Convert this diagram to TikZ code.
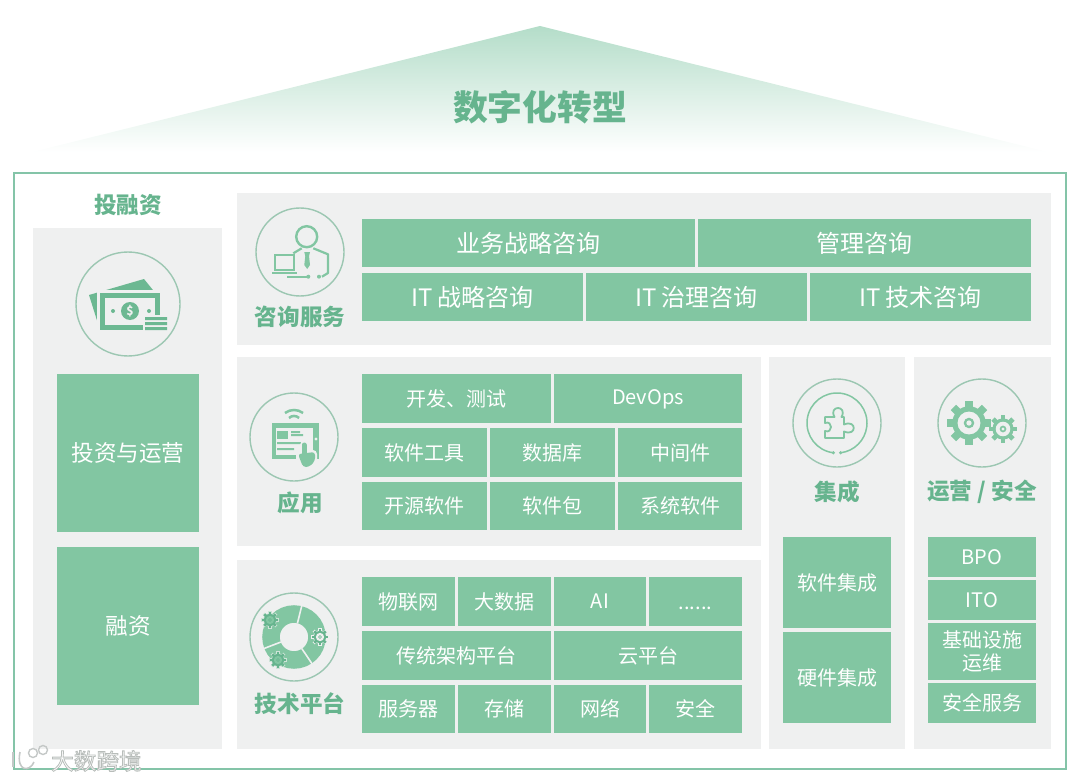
\documentclass[tikz,border=0pt]{standalone}
\usepackage{fontspec}
\setmainfont{Noto Sans CJK SC}
\usepackage{tikz}
\usetikzlibrary{positioning}
\definecolor{CellGreen}{HTML}{82C6A2}
\definecolor{HeadGreen}{HTML}{66B48E}
\definecolor{RingGreen}{HTML}{9CC7B2}
\definecolor{FrameGreen}{HTML}{84C4A8}
\definecolor{RoofGreen}{HTML}{B4DDC9}
\definecolor{PanelGray}{HTML}{EFF0F0}
\definecolor{MarkGray}{HTML}{C4C8C7}
\newcommand{\gearicon}[5]{%
\begin{scope}[shift={(#1,#2)}]
\foreach \ga in {0,45,...,315}{\draw[#4,line width=0.34*#3 pt] (\ga:0.6*#3) -- (\ga:#3);}
\fill[#4] (0,0) circle[radius=0.76*#3];
\fill[#5] (0,0) circle[radius=0.52*#3];
\fill[#4] (0,0) circle[radius=0.24*#3];
\fill[#5] (0,0) circle[radius=0.12*#3];
\end{scope}}
\begin{document}
\begin{tikzpicture}[
x=1pt,y=-1pt,
panel/.style={fill=PanelGray,anchor=north west,inner sep=0pt,outer sep=0pt},
cell/.style={fill=CellGreen,text=white,anchor=north west,inner sep=0pt,outer sep=0pt,align=center,font=\fontsize{20}{24}\selectfont},
bigcell/.style={cell,font=\fontsize{24}{28}\selectfont},
midcell/.style={cell,font=\fontsize{22.6}{26}\selectfont},
head/.style={text=HeadGreen,inner sep=0pt,font=\fontsize{22.6}{26}\selectfont\bfseries},
ring/.style={circle,draw=RingGreen,line width=1.4pt,inner sep=0pt,outer sep=0pt}
]
\useasboundingbox (0,0) rectangle (1080,781);
\shade[top color=RoofGreen,bottom color=white] (540,26) -- (1048,152) -- (32,152) -- cycle;
\node[text=HeadGreen,inner sep=0pt,font=\fontsize{34.8}{40}\selectfont\bfseries] (title) at (540,107) {数字化转型};
\node[draw=FrameGreen,line width=1.3pt,anchor=north west,inner sep=0pt,outer sep=0pt,minimum width=1052pt,minimum height=596pt] (house) at (14,173) {};

\node[panel,minimum width=189pt,minimum height=521pt] (fundpanel) at (33,228) {};
\node[panel,minimum width=814pt,minimum height=152pt] (consultpanel) at (237,193) {};
\node[panel,minimum width=524pt,minimum height=189pt] (apppanel) at (237,357) {};
\node[panel,minimum width=524pt,minimum height=189pt] (techpanel) at (237,560) {};
\node[panel,minimum width=136pt,minimum height=392pt] (integpanel) at (769,357) {};
\node[panel,minimum width=137pt,minimum height=392pt] (opspanel) at (914,357) {};

\node[head] (fundhead) at (128,205) {投融资};
\node[head] (consulthead) at (300,317) {咨询服务};
\node[head] (apphead) at (300,503) {应用};
\node[head] (techhead) at (300,704) {技术平台};
\node[head] (integhead) at (837,492) {集成};
\node[head] (opshead) at (982,492) {运营 / 安全};

\node[midcell,minimum width=142pt,minimum height=158pt] (invest) at (57,374) {投资与运营};
\node[midcell,minimum width=142pt,minimum height=158pt] (finance) at (57,547) {融资};

\node[bigcell,minimum width=333pt,minimum height=48pt] (bizcon) at (362,219) {业务战略咨询};
\node[bigcell,minimum width=333pt,minimum height=48pt,right=3pt of bizcon] (mgmtcon) {管理咨询};
\node[bigcell,minimum width=221pt,minimum height=48pt] (itstrat) at (362,273) {IT 战略咨询};
\node[bigcell,minimum width=221pt,minimum height=48pt,right=3pt of itstrat] (itgov) {IT 治理咨询};
\node[bigcell,minimum width=221pt,minimum height=48pt,right=3pt of itgov] (ittech) {IT 技术咨询};

\node[cell,minimum width=189pt,minimum height=49pt] (devtest) at (362,374) {开发、测试};
\node[cell,minimum width=188pt,minimum height=49pt,right=3pt of devtest] (devops) {\vphantom{中}DevOps};
\node[cell,minimum width=125pt,minimum height=49pt] (tools) at (362,428) {软件工具};
\node[cell,minimum width=125pt,minimum height=49pt,right=3pt of tools] (database) {数据库};
\node[cell,minimum width=124pt,minimum height=49pt,right=3pt of database] (midware) {中间件};
\node[cell,minimum width=125pt,minimum height=48pt] (opensrc) at (362,482) {开源软件};
\node[cell,minimum width=125pt,minimum height=48pt,right=3pt of opensrc] (package) {软件包};
\node[cell,minimum width=124pt,minimum height=48pt,right=3pt of package] (system) {系统软件};

\node[cell,minimum width=93pt,minimum height=49pt] (iot) at (362,577) {物联网};
\node[cell,minimum width=93pt,minimum height=49pt,right=3pt of iot] (bigdata) {大数据};
\node[cell,minimum width=92pt,minimum height=49pt,right=3pt of bigdata] (ai) {AI};
\node[cell,minimum width=93pt,minimum height=49pt,right=3pt of ai] (more) {\vphantom{中}......};
\node[cell,minimum width=189pt,minimum height=49pt] (legacy) at (362,631) {传统架构平台};
\node[cell,minimum width=188pt,minimum height=49pt,right=3pt of legacy] (cloud) {云平台};
\node[cell,minimum width=93pt,minimum height=48pt] (server) at (362,685) {服务器};
\node[cell,minimum width=93pt,minimum height=48pt,right=3pt of server] (storage) {存储};
\node[cell,minimum width=92pt,minimum height=48pt,right=3pt of storage] (network) {网络};
\node[cell,minimum width=93pt,minimum height=48pt,right=3pt of network] (security) {安全};

\node[cell,minimum width=108pt,minimum height=91pt] (softint) at (783,537) {软件集成};
\node[cell,minimum width=108pt,minimum height=91pt] (hardint) at (783,632) {硬件集成};

\node[cell,minimum width=108pt,minimum height=40pt] (bpo) at (928,537) {BPO};
\node[cell,minimum width=108pt,minimum height=40pt] (ito) at (928,580) {ITO};
\node[cell,minimum width=108pt,minimum height=57pt] (infra) at (928,623) {基础设施\\[-1pt]运维};
\node[cell,minimum width=108pt,minimum height=40pt] (secserv) at (928,683) {安全服务};

\node[ring,minimum size=104pt] (fundring) at (128,304) {};
\node[ring,minimum size=88pt] (consultring) at (300,252) {};
\node[ring,minimum size=88pt] (appring) at (294,437) {};
\node[ring,minimum size=88pt] (techring) at (294,637) {};
\node[ring,minimum size=88pt] (integring) at (837,423) {};
\node[ring,minimum size=88pt] (opsring) at (982,423) {};

\begin{scope}[shift={(128,304)}]
\fill[HeadGreen!80!CellGreen] (-39,-9) -- (16,-25) -- (29,-9) -- (-28,26) -- cycle;
\fill[PanelGray] (-31,-14) rectangle (35,29);
\fill[HeadGreen!80!CellGreen] (-28,-11) rectangle (32,26);
\fill[PanelGray] (-23,-6) rectangle (27,21);
\fill[HeadGreen!80!CellGreen] (2,7) circle[radius=9];
\node[text=PanelGray,inner sep=0pt,font=\fontsize{12}{12}\selectfont\bfseries] (dollar) at (2,7) {\$};
\fill[HeadGreen!80!CellGreen] (-15,7) circle[radius=2] (21,7) circle[radius=2];
\fill[PanelGray] (15,11) rectangle (41,28);
\fill[HeadGreen!80!CellGreen] (17,13) rectangle (39,16) (17,18) rectangle (39,21) (17,23) rectangle (39,26);
\end{scope}

\begin{scope}[shift={(300,252)},CellGreen]
\draw[line width=2.4pt] (6.7,-15.3) circle[radius=10.5];
\draw[line width=2.2pt,line join=round] (-6.7,1.3) -- (1.7,-3.7);
\draw[line width=2.2pt,line join=round] (13.3,-3.7) -- (28,2.3) -- (28,21) -- (22,24.7);
\draw[line width=2.2pt] (-25,3) rectangle (-5.7,18);
\fill (-27.7,19.7) rectangle (-3.3,22.3);
\draw[line width=1.8pt] (-13,24.7) -- (8.3,24.7);
\fill (8.3,24.7) circle[radius=2] (19,24.7) circle[radius=2];
\fill (4.3,0) -- (10,0) -- (9,4) -- (10,13) -- (7.2,17) -- (4.3,13) -- (5.3,4) -- cycle;
\end{scope}

\begin{scope}[shift={(294,437)},CellGreen]
\fill (-22,-14) rectangle (25,22);
\fill[PanelGray] (-18,-9) rectangle (19,18);
\fill (-17,-6) rectangle (-6,2);
\fill (-3,-6) rectangle (6,-4) (-3,-3) rectangle (9,-1) (-17,5) rectangle (7,7) (-17,11) rectangle (0,13);
\fill[PanelGray] (22,2) circle[radius=1.6];
\draw[line width=2.5pt] (-9,-24) arc[start angle=233,end angle=307,radius=15];
\draw[line width=2.5pt] (-5,-19) arc[start angle=226,end angle=314,radius=7.25];
\draw[PanelGray,line width=8pt,line cap=round] (10,8) -- (10,20);
\fill[PanelGray,rounded corners=4pt] (2,13) rectangle (23,32);
\draw[line width=5pt,line cap=round] (10,8) -- (10,20);
\fill[rounded corners=3pt] (4,17) -- (21,15) -- (21,24) -- (15,30) -- (9,30) -- cycle;
\end{scope}

\begin{scope}[shift={(294,637)}]
\draw[CellGreen,line width=17.5pt] (0,0) circle[radius=23];
\foreach \sa in {284,56,159}{\draw[PanelGray,line width=1.6pt] (\sa:14) -- (\sa:33);}
\end{scope}
\gearicon{270}{620}{9}{PanelGray!70!CellGreen}{PanelGray!70!CellGreen}
\gearicon{270}{620}{8}{HeadGreen}{CellGreen}
\gearicon{320}{637}{9}{PanelGray}{PanelGray}
\gearicon{320}{637}{8}{HeadGreen}{PanelGray}
\gearicon{278}{660}{9}{PanelGray!70!CellGreen}{PanelGray!70!CellGreen}
\gearicon{278}{660}{8}{HeadGreen}{CellGreen}

\begin{scope}[shift={(837,423)},CellGreen]
\draw[line width=1.5pt] (97:30) arc[start angle=97,end angle=443,radius=30];
\fill (97:30) circle[radius=1.8] (83:30) circle[radius=1.8];
\draw[line width=1.8pt,line join=round] (-12,-6) -- (-2.5,-6) .. controls (-9,-18) and (11,-18) .. (4.5,-6) -- (7,-6) -- (7,1.5) .. controls (20,-4) and (20,14) .. (7,8.5) -- (7,15) -- (-12,15) -- (-12,8) .. controls (-4,11) and (-4,-3) .. (-12,0) -- cycle;
\end{scope}

\gearicon{969}{423}{22}{CellGreen}{PanelGray}
\gearicon{1003}{429}{14}{CellGreen}{PanelGray}

\draw[MarkGray,line width=1.6pt] (13,752) -- (13,767);
\draw[MarkGray,line width=1.6pt] (20,752) .. controls (16,772) and (30,772) .. (34,762);
\draw[MarkGray,line width=1.4pt] (33,753) circle[radius=4.5] (43,750) circle[radius=4.5];
\node[text=white,inner sep=0pt,anchor=west,font=\fontsize{22.6}{26}\selectfont] (mark) at (51,761) {\special{pdf:code 2 Tr 0.8 w 0.72 0.74 0.73 RG}大数跨境\special{pdf:code 0 Tr}};
\end{tikzpicture}
\end{document}
